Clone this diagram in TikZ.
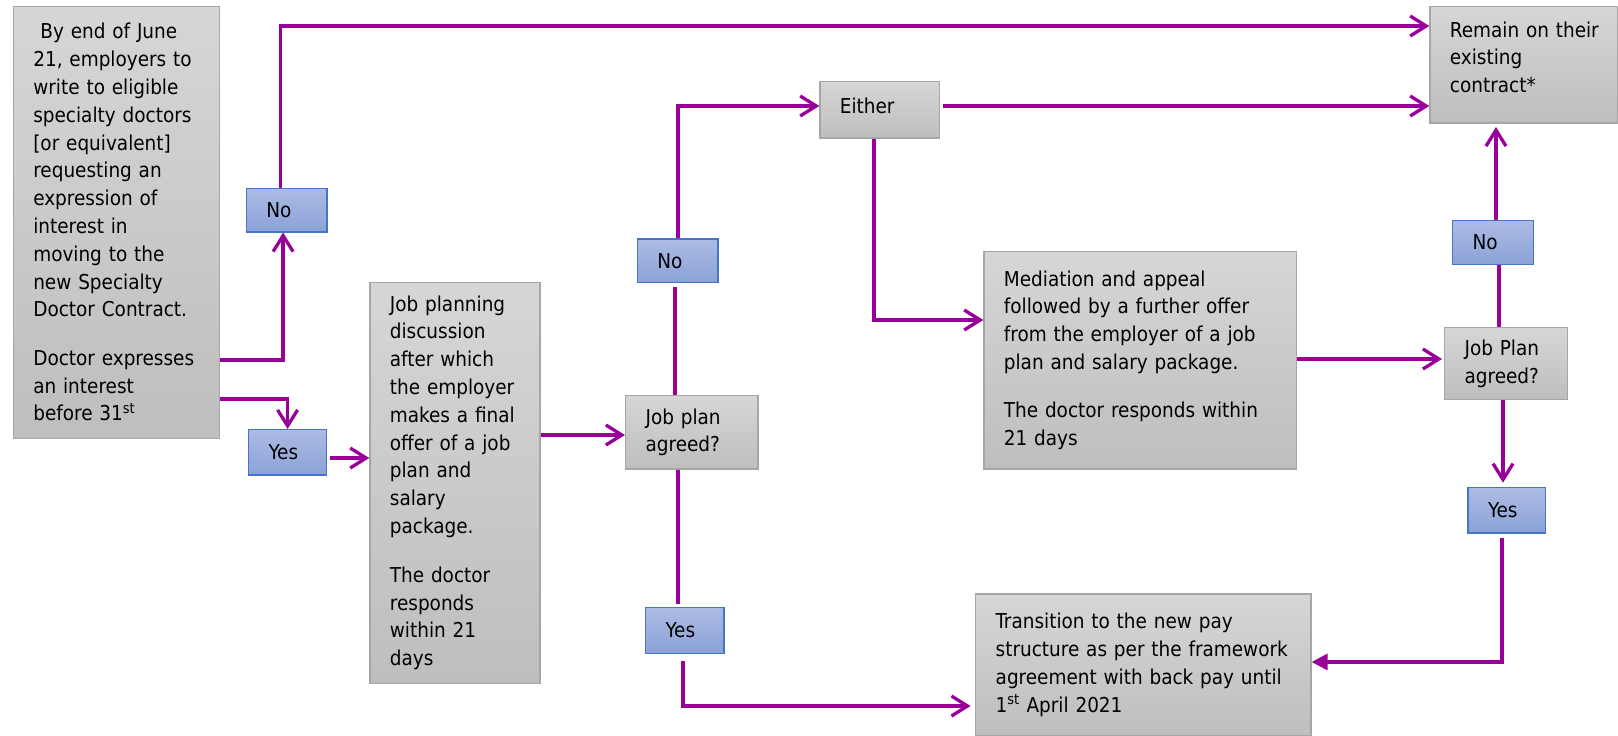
\documentclass[tikz,border=0pt]{standalone}
\usepackage{fontspec}
\setmainfont{DejaVu Sans Condensed}
\usetikzlibrary{arrows.meta}

\definecolor{flowpurple}{RGB}{153,0,153}
\definecolor{greytop}{RGB}{214,214,214}
\definecolor{greybot}{RGB}{190,190,190}
\definecolor{greyline}{RGB}{166,166,166}
\definecolor{bluetop}{RGB}{172,187,227}
\definecolor{bluebot}{RGB}{139,162,216}
\definecolor{blueline}{RGB}{70,116,200}

\begin{document}
\begin{tikzpicture}[x=1pt,y=-1pt]
    \tikzstyle{greybox}=[draw=greyline, line width=1.2pt, top color=greytop, bottom color=greybot, anchor=north west, inner xsep=20pt, inner ysep=0pt, align=left, font=\fontsize{20.5}{27.8}\selectfont]
    \tikzstyle{answer}=[greybox, draw=blueline, top color=bluetop, bottom color=bluebot]
    \tikzstyle{flow}=[draw=flowpurple, line width=3.3pt]
    \tikzstyle{barb}=[flow, -{Straight Barb[length=16pt,width=20pt]}]
    \useasboundingbox (0,0) rectangle (1618,736);

    % boxes
    \node[greybox, text width=166.3pt, minimum height=432pt] (start) at (12.7,5.7) {\hspace*{0.35em}By end of June\\ 21, employers~to\\ write to eligible\\ specialty doctors\\ {[}or equivalent{]}\\ requesting an\\ expression of\\ interest in\\ moving to the\\ new Specialty\\ Doctor Contract.\\[20.5pt] Doctor expresses\\ an interest\\ before 31\textsuperscript{st}};
    \node[answer, text width=40.6pt, minimum height=43.6pt] (no1) at (245.7,187.7) {No};
    \node[answer, text width=38pt, minimum height=45.4pt] (yes1) at (248,429) {Yes};
    \node[greybox, text width=130pt, minimum height=401pt] (plan) at (369.3,281.7) {Job planning\\ discussion\\ after which\\ the~employer\\ makes~a~final\\ offer of a job\\ plan and\\ salary\\ package.\\[21pt] The doctor\\ responds\\ within 21\\ days};
    \node[answer, text width=40.6pt, minimum height=43.7pt] (no2) at (636.7,238.3) {No};
    \node[greybox, text width=92.3pt, minimum height=73.3pt] (agreed) at (625,395) {Job plan\\ agreed?};
    \node[answer, text width=38.3pt, minimum height=46pt] (yes2) at (645,606.7) {Yes};
    \node[greybox, text width=79.7pt, minimum height=56.6pt] (either) at (819.3,80.7) {Either\rule[-8pt]{0pt}{8pt}};
    \node[greybox, text width=272.7pt, minimum height=217.3pt] (mediation) at (983.3,251) {Mediation and appeal\\ followed by a further offer\\ from the employer of a job\\ plan and salary package.\\[20.5pt] The doctor responds within\\ 21 days};
    \node[greybox, text width=295.3pt, minimum height=141.5pt] (transition) at (975.1,593.3) {Transition to the new pay\\ structure as per the framework\\ agreement with back pay until\\ 1\textsuperscript{st} April 2021};
    \node[greybox, text width=148pt, minimum height=116.6pt] (remain) at (1429.3,5.7) {Remain~on~their\\ existing\\ contract*\rule[-15pt]{0pt}{15pt}};
    \node[answer, text width=40.7pt, minimum height=44pt] (no3) at (1452,220) {No};
    \node[greybox, text width=82.7pt, minimum height=72.3pt] (agreed2) at (1444,326.7) {Job Plan\\ agreed?};
    \node[answer, text width=37.5pt, minimum height=45.6pt] (yes3) at (1467.4,486.7) {Yes};

    % connectors
    \draw[barb] (start.east |- 0,360) -| ([xshift=-3.5pt]no1.south);
    \draw[barb] ([xshift=-6pt]no1.north) |- (remain.west |- 0,26);
    \draw[barb] (start.east |- 0,399) -| (yes1.north);
    \draw[barb, shorten <=3pt] (yes1.east |- 0,458) -- (plan.west |- 0,458);
    \draw[barb] (plan.east |- 0,435) -- (agreed.west |- 0,435);
    \draw[flow, shorten <=4pt] (no2.south -| 675,0) -- (agreed.north -| 675,0);
    \draw[barb] (no2.north -| 678,0) |- (either.west |- 0,106);
    \draw[flow, shorten >=3pt] (agreed.south -| 678,0) -- (yes2.north -| 678,0);
    \draw[barb, shorten <=7pt, shorten >=4.5pt] (yes2.south -| 683,0) |- (transition.west |- 0,706);
    \draw[barb, shorten <=2.5pt] (either.east |- 0,106) -- (remain.west |- 0,106);
    \draw[barb] (either.south -| 874,0) |- (mediation.west |- 0,320);
    \draw[barb, shorten >=2pt] (mediation.east |- 0,359) -- (agreed2.west |- 0,359);
    \draw[flow] (agreed2.north -| 1499,0) -- (no3.south -| 1499,0);
    \draw[barb, shorten >=3.5pt] (no3.north -| 1496,0) -- (remain.south -| 1496,0);
    \draw[barb, shorten >=4pt] (agreed2.south -| 1503,0) -- (yes3.north -| 1503,0);
    \draw[flow, -{Triangle[length=16pt,width=16pt]}, shorten <=4pt] (yes3.south -| 1502,0) |- (transition.east |- 0,662);
\end{tikzpicture}
\end{document}
